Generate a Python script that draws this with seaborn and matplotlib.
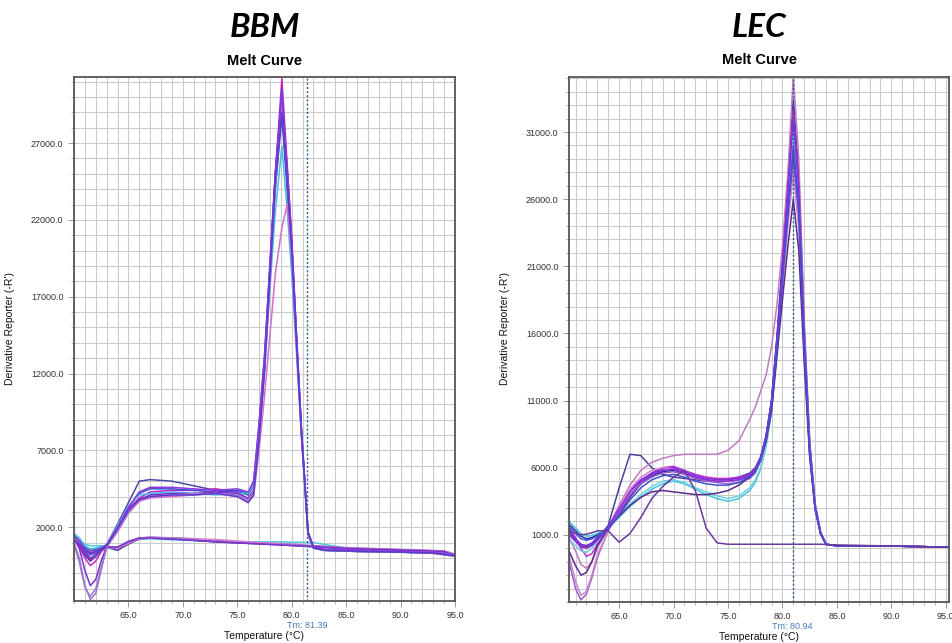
import pandas as pd
import seaborn as sns
import matplotlib.pyplot as plt
import matplotlib.transforms as mtransforms
from matplotlib.ticker import MultipleLocator, FormatStrFormatter

# ---------------- BBM ----------------
bbm_temps = [60, 60.5, 61, 61.5, 62, 62.5, 63, 64, 65, 66, 67, 69, 71, 73, 75, 76,
             76.5, 77, 77.5, 78, 78.5, 79.1, 79.6, 80, 80.4, 80.9, 81.5, 82, 83, 86, 90, 93, 95]
bbm_a1 = [1500, 1100, 700, 500, 550, 700, 850, 2200, 3600, 5000, 5100, 5000, 4700, 4400, 4300, 4100,
          4700, 8300, 12500, 18500, 24000, 28800, 23800, 19600, 14400, 8000, 1600, 650, 500, 420, 380, 330, 150]
bbm_a2 = [1200, 800, 300, -100, 100, 500, 800, 1900, 3200, 3900, 4300, 4400, 4400, 4500, 4300, 3800,
          4300, 7800, 12500, 18800, 25000, 31200, 25500, 21000, 15200, 8400, 1700, 700, 550, 480, 420, 350, 200]
bbm_a3 = [1400, 1000, 400, 0, 200, 550, 850, 2000, 3300, 4200, 4500, 4500, 4400, 4300, 4400, 4200,
          4900, 8600, 13000, 19000, 25000, 30400, 25000, 20500, 14800, 8200, 1600, 650, 500, 430, 380, 320, 120]
bbm_a4 = [1600, 1300, 800, 600, 650, 750, 850, 2100, 3400, 4100, 4200, 4300, 4200, 4100, 4200, 4200,
          4800, 8200, 12000, 17500, 22500, 26800, 22500, 18500, 13800, 7800, 1500, 650, 500, 450, 400, 350, 200]
bbm_a5 = [1300, 600, -800, -1800, -1400, -200, 750, 1800, 3000, 3800, 4100, 4200, 4200, 4300, 4200, 3900,
          4400, 8000, 12500, 18800, 25000, 30000, 25000, 20500, 15000, 8300, 1700, 700, 550, 480, 420, 360, 180]
bbm_a6 = [1000, 0, -1800, -2700, -2300, -800, 700, 1700, 2900, 3700, 4000, 4100, 4200, 4200, 4100, 3800,
          4300, 7600, 12000, 18000, 24200, 29600, 24500, 20000, 14600, 8100, 1600, 650, 500, 430, 370, 300, 100]
bbm_a7 = [1300, 1000, 500, 300, 450, 650, 830, 1800, 3000, 3700, 3900, 4000, 4100, 4200, 4000, 3700,
          4000, 7000, 10500, 14500, 18500, 21500, 23000, 19500, 14300, 8000, 1600, 650, 520, 450, 400, 340, 160]
bbm_a8 = [1400, 1100, 600, 350, 450, 650, 850, 2000, 3300, 4300, 4600, 4600, 4500, 4400, 4500, 4300,
          5000, 8800, 13200, 19200, 25200, 30200, 25200, 20700, 15000, 8300, 1700, 700, 560, 470, 410, 350, 170]
bbm_a9 = [1200, 900, 500, 300, 400, 600, 800, 1900, 3100, 3800, 4000, 4100, 4100, 4200, 4000, 3600,
          4100, 7600, 12200, 18200, 24500, 29000, 24400, 20000, 14500, 8100, 1600, 650, 500, 440, 380, 320, 150]

bbm_flat_temps = [60, 60.5, 61, 61.5, 62, 62.5, 63, 64, 65, 66, 67, 70, 73, 76, 79, 82, 85, 88, 91, 94, 95]
bbm_f1 = [1500, 1200, 900, 800, 800, 800, 750, 700, 1000, 1200, 1250, 1150, 1100, 1050, 1050, 1000, 650, 550, 500, 430, 200]
bbm_f2 = [1300, 700, 0, -500, -200, 400, 750, 650, 1050, 1300, 1350, 1250, 1100, 1000, 900, 780, 650, 580, 520, 450, 250]
bbm_f3 = [1200, 800, 200, -200, 100, 500, 700, 500, 900, 1250, 1300, 1200, 1050, 950, 850, 720, 600, 540, 480, 400, 180]
bbm_f4 = [900, -300, -1900, -2500, -2000, -600, 650, 700, 1100, 1300, 1350, 1300, 1150, 1000, 950, 800, 680, 600, 540, 460, 230]
bbm_f5 = [1400, 1100, 600, 400, 500, 650, 720, 600, 950, 1250, 1300, 1250, 1200, 1050, 900, 750, 640, 560, 520, 440, 210]
bbm_f6 = [1300, 900, 400, 200, 300, 600, 720, 700, 1050, 1300, 1300, 1200, 1050, 950, 850, 760, 620, 560, 500, 420, 170]

bbm_amp_colors = ['#4b4ba6', '#c21fc2', '#3b4fd6', '#47bfe6', '#7a2fd0', '#9a78c8', '#d56ccc', '#8b3ae2', '#5a3ccc']
bbm_flat_colors = ['#55c8e2', '#c02cc0', '#33339c', '#9d7cc9', '#d27acb', '#7b33d0']
bbm_tm = 81.39
bbm_yticks = [2000, 7000, 12000, 17000, 22000, 27000]

# ---------------- LEC ----------------
lec_temps = [60.4, 61, 61.5, 62, 62.5, 63, 64, 65, 66, 67, 68, 69, 70, 71, 72, 73, 74, 75, 76,
             77, 77.5, 78, 78.5, 79, 79.5, 80, 80.5, 81, 81.5, 82, 82.5, 83, 83.5, 84, 85, 88, 91, 95.3]
lec_1 = [1200, 600, 200, 100, 300, 700, 1700, 4500, 7000, 6900, 6000, 5500, 5300, 5200, 5100, 5000, 5000, 5100, 5300,
         5600, 6000, 6800, 8400, 11000, 15500, 20500, 26000, 29500, 25000, 14800, 7200, 3000, 1100, 300, 180, 170, 150, 80]
lec_2 = [1800, 1300, 900, 700, 800, 1000, 1500, 2600, 3800, 4800, 5400, 5700, 5800, 5600, 5300, 5100, 5000, 5000, 5100,
         5300, 5700, 6600, 8200, 11000, 15800, 21500, 27500, 33400, 27800, 16500, 7900, 3300, 1200, 300, 180, 170, 150, 80]
lec_3 = [800, -200, -1200, -1500, -1000, 0, 1500, 3200, 4700, 5800, 6400, 6700, 6900, 7000, 7000, 7000, 7000, 7300, 8000,
         9600, 10500, 11700, 12900, 15000, 18200, 22500, 28000, 35200, 29000, 17000, 8000, 3300, 1200, 300, 180, 170, 150, 80]
lec_4 = [1500, 800, 0, -600, -400, 300, 1400, 2700, 3900, 4900, 5600, 6000, 6100, 5800, 5500, 5300, 5200, 5200, 5300,
         5500, 5900, 6700, 8200, 10800, 15500, 21000, 26800, 32700, 27200, 16000, 7700, 3200, 1200, 300, 180, 170, 150, 80]
lec_5 = [2000, 1500, 1100, 900, 950, 1100, 1500, 2300, 3100, 3800, 4400, 4800, 5000, 4800, 4400, 4000, 3700, 3500, 3700,
         4300, 4900, 5900, 7600, 10200, 14800, 20000, 25500, 31500, 26500, 15500, 7500, 3100, 1100, 300, 180, 170, 150, 80]
lec_6 = [700, 200, -200, -300, 0, 500, 1400, 2500, 3300, 4000, 4600, 5000, 5100, 4900, 4500, 4200, 3900, 3700, 3900,
         4500, 5100, 6000, 7700, 10300, 14800, 19800, 25000, 30500, 25800, 15200, 7300, 3000, 1100, 300, 180, 170, 150, 80]
lec_7 = [1300, 700, 300, 200, 400, 800, 1600, 3000, 4300, 5100, 5600, 5900, 6000, 5700, 5400, 5200, 5100, 5100, 5200,
         5500, 5900, 6800, 8400, 11000, 15600, 21000, 26600, 32000, 26800, 15800, 7600, 3100, 1100, 300, 180, 170, 150, 80]
lec_8 = [-1000, -3000, -3850, -3400, -2200, -700, 1300, 2800, 4000, 4800, 5300, 5600, 5700, 5500, 5200, 5000, 4900, 4800, 4900,
         5200, 5600, 6500, 8000, 10400, 14800, 19700, 24500, 29000, 24500, 14800, 7100, 3000, 1100, 300, 180, 170, 150, 80]
lec_9 = [-500, -2500, -3500, -3200, -2000, -500, 1300, 3000, 4400, 5300, 5800, 6000, 5900, 5600, 5300, 5100, 5000, 5000, 5100,
         5400, 5800, 6600, 8100, 10500, 14800, 19500, 24000, 28000, 23800, 14500, 7000, 2900, 1100, 300, 180, 170, 150, 80]
lec_10 = [-200, -1300, -2000, -1800, -1000, 200, 1500, 2400, 3200, 3800, 4200, 4300, 4200, 4100, 4000, 4000, 4100, 4300, 4700,
          5300, 5800, 6600, 8000, 10200, 14300, 18500, 22500, 26000, 22200, 13800, 6800, 2900, 1100, 300, 180, 170, 150, 80]
lec_11 = [1000, 500, 100, 0, 200, 600, 1500, 2900, 4200, 5000, 5500, 5800, 5900, 5600, 5300, 5100, 5000, 5000, 5100,
          5400, 5800, 6700, 8300, 10800, 15200, 20200, 25200, 30000, 25500, 15200, 7300, 3000, 1100, 300, 180, 170, 150, 80]
lec_12 = [1600, 1100, 700, 600, 700, 900, 1400, 2500, 3600, 4500, 5100, 5400, 5500, 5300, 5000, 4800, 4700, 4700, 4900,
          5300, 5700, 6600, 8100, 10600, 15000, 19900, 24800, 29500, 25000, 15000, 7200, 3000, 1100, 300, 180, 170, 150, 80]
lec_ntc = [1300, 1100, 1000, 1050, 1150, 1300, 1300, 450, 1100, 2300, 3700, 4600, 5300, 5800, 4300, 1500, 400, 300, 300,
           300, 300, 300, 300, 300, 300, 300, 300, 300, 300, 300, 300, 300, 300, 280, 250, 200, 150, 80]

lec_colors = ['#4a3f9a', '#2a2a9a', '#c07ac0', '#c030c8', '#45c2dc', '#6fd0e0', '#7a30d8',
              '#9a60c8', '#d080d0', '#5a2a8a', '#8a2be2', '#4050d0', '#6a3aa0']
lec_tm = 80.94
lec_yticks = [1000, 6000, 11000, 16000, 21000, 26000, 31000]


def long_table(temps, curves, prefix):
    rows = []
    for i, vals in enumerate(curves):
        for t, v in zip(temps, vals):
            rows.append({'temp': t, 'value': v, 'well': f'{prefix}{i}'})
    return pd.DataFrame(rows)


sns.set_theme(style='white')
plt.rcParams['font.family'] = ['Liberation Sans', 'DejaVu Sans']

fig = plt.figure(figsize=(9.52, 6.43), dpi=100)
ax1 = fig.add_axes([0.0777, 0.0653, 0.4002, 0.8149])
ax2 = fig.add_axes([0.5977, 0.0638, 0.3992, 0.8165])

bbm_amp = long_table(bbm_temps, [bbm_a1, bbm_a2, bbm_a3, bbm_a4, bbm_a5, bbm_a6, bbm_a7, bbm_a8, bbm_a9], 'a')
bbm_flat = long_table(bbm_flat_temps, [bbm_f1, bbm_f2, bbm_f3, bbm_f4, bbm_f5, bbm_f6], 'f')
lec = long_table(lec_temps, [lec_1, lec_2, lec_3, lec_4, lec_5, lec_6, lec_7, lec_8, lec_9,
                             lec_10, lec_11, lec_12, lec_ntc], 'l')

sns.lineplot(data=bbm_flat, x='temp', y='value', hue='well', palette=bbm_flat_colors,
             estimator=None, sort=False, legend=False, lw=1.1, ax=ax1)
sns.lineplot(data=bbm_amp, x='temp', y='value', hue='well', palette=bbm_amp_colors,
             estimator=None, sort=False, legend=False, lw=1.1, ax=ax1)
sns.lineplot(data=lec, x='temp', y='value', hue='well', palette=lec_colors,
             estimator=None, sort=False, legend=False, lw=1.1, ax=ax2)

panels = [(ax1, 'BBM', bbm_tm, bbm_yticks, (60, 95), (-2800, 31300)),
          (ax2, 'LEC', lec_tm, lec_yticks, (60.4, 95.3), (-4000, 35100))]

for ax, name, tm, yt, xl, yl in panels:
    ax.set_xlim(*xl)
    ax.set_ylim(*yl)
    ax.set_xticks([65, 70, 75, 80, 85, 90, 95])
    ax.set_yticks(yt)
    ax.xaxis.set_minor_locator(MultipleLocator(1))
    ax.yaxis.set_minor_locator(MultipleLocator(1000))
    ax.xaxis.set_major_formatter(FormatStrFormatter('%.1f'))
    ax.yaxis.set_major_formatter(FormatStrFormatter('%.1f'))
    ax.grid(which='both', color='#cccccc', lw=0.8)
    ax.set_axisbelow(True)
    for s in ax.spines.values():
        s.set_color('#555555')
        s.set_linewidth(1.3)
    ax.tick_params(which='major', direction='out', length=4, width=0.7, color='#999999',
                   labelsize=6.5, labelcolor='#333333', left=True, bottom=True)
    ax.tick_params(which='minor', direction='out', length=2, width=0.6, color='#aaaaaa',
                   left=True, bottom=True)
    ax.axvline(tm, color='#2f5f8f', ls=(0, (1.5, 1.5)), lw=1)
    trans = mtransforms.blended_transform_factory(ax.transData, ax.transAxes)
    ax.text(tm, -0.047, f'Tm: {tm:.2f}', transform=trans, ha='center', va='center',
            fontsize=6.5, color='#4a7ab8')
    ax.set_xlabel('Temperature (°C)', fontsize=7.5, color='#111111')
    ax.set_ylabel("Derivative Reporter (-R')", fontsize=7.5, color='#111111')
    ax.xaxis.set_label_coords(0.5, -0.057)
    ax.yaxis.set_label_coords(-0.155, 0.52)
    ax.set_title('Melt Curve', fontsize=10.5, fontweight='bold', pad=9, color='black')
    cx = (ax.get_position().x0 + ax.get_position().x1) / 2
    fig.text(cx, 0.958, name, ha='center', va='center', fontsize=24, color='black',
             fontweight='bold', fontstyle='italic', family=['Lato', 'DejaVu Sans'])

fig.savefig('out.png', dpi=100)
